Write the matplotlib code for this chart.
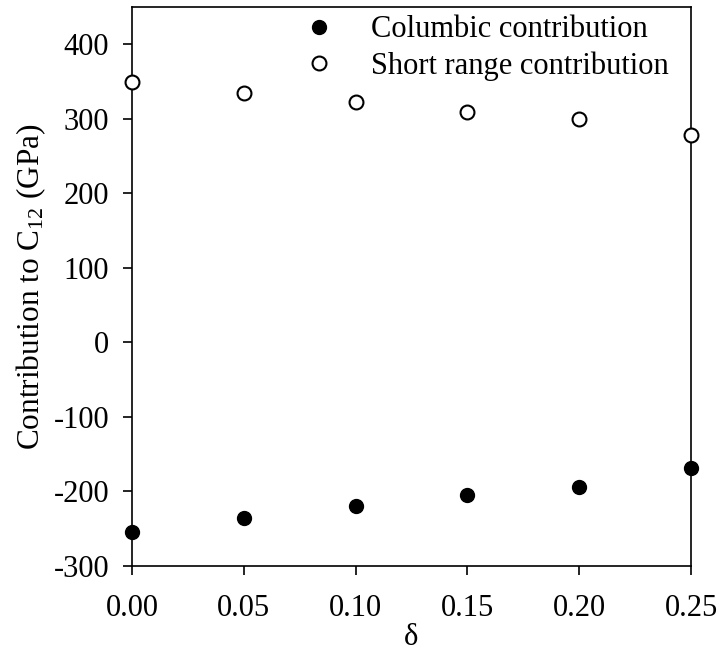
import numpy as np
import matplotlib.pyplot as plt

plt.rcParams['font.family'] = ['Liberation Serif', 'DejaVu Serif']
plt.rcParams['mathtext.fontset'] = 'custom'
plt.rcParams['mathtext.rm'] = 'Liberation Serif'
plt.rcParams['mathtext.it'] = 'Liberation Serif:italic'
plt.rcParams['axes.unicode_minus'] = False

delta = [0.00, 0.05, 0.10, 0.15, 0.20, 0.25]
columbic = [-255, -236, -220, -205, -194, -169]
short_range = [349, 334, 322, 309, 300, 278]

fig = plt.figure(figsize=(7.17, 6.56), dpi=100)
ax = fig.add_axes([132/717, 1-566/656, 559/717, 559/656])

ax.plot(delta, columbic, 'o', color='black', ms=10, clip_on=False, zorder=5,
        label='Columbic contribution')
ax.plot(delta, short_range, 'o', mfc='white', mec='black', mew=1.5, ms=10,
        clip_on=False, zorder=5, label='Short range contribution')

ax.set_xlim(0, 0.25)
ax.set_ylim(-300, 450)
ax.set_xticks(np.arange(0, 0.26, 0.05))
ax.set_xticklabels(['0.00', '0.05', '0.10', '0.15', '0.20', '0.25'])
ax.set_yticks(range(-300, 401, 100))
ax.tick_params(direction='out', length=6.5, width=1.2, labelsize=22)
ax.tick_params(axis='x', pad=14)
ax.tick_params(axis='y', pad=10)
for s in ax.spines.values():
    s.set_linewidth(1.2)

ax.set_xlabel('δ', fontsize=22, labelpad=0)
ax.set_ylabel(r'Contribution to C$_{\mathrm{12}}$ (GPa)', fontsize=22.5, labelpad=4)

ax.legend(loc='upper left', bbox_to_anchor=(0.28, 1.007), frameon=False,
          fontsize=22, handlelength=1.2, handletextpad=1.1, labelspacing=0.22,
          borderaxespad=0)

fig.savefig('out.png', dpi=100)
